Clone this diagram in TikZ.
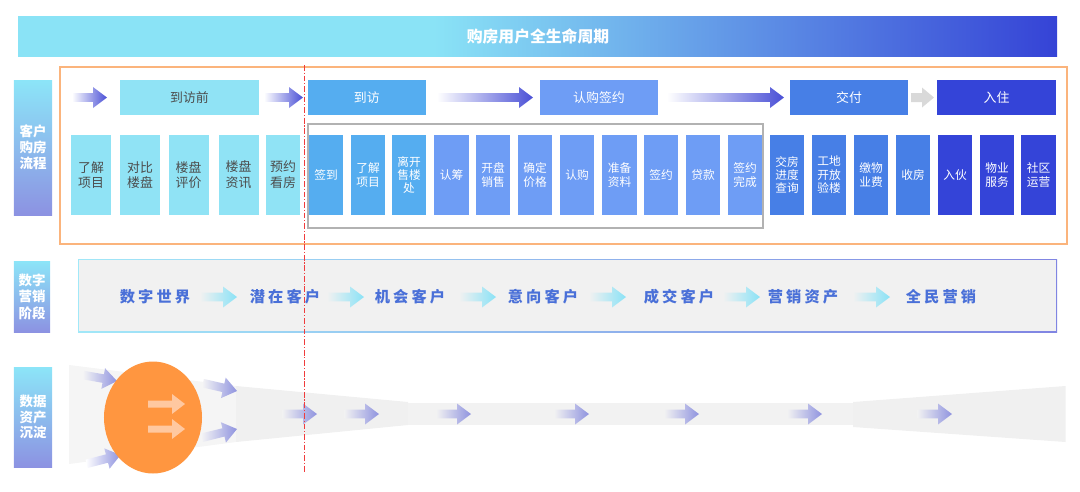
\documentclass[tikz,border=0pt]{standalone}
\usepackage{fontspec}
\setmainfont{Noto Sans CJK SC}
\newfontfamily\mktfont[LetterSpace=20]{Noto Sans CJK SC}
\usetikzlibrary{shapes.geometric}

\definecolor{preC}{HTML}{90E3F5}
\definecolor{visitC}{HTML}{55ADF0}
\definecolor{signC}{HTML}{6E9DF5}
\definecolor{deliverC}{HTML}{477FE6}
\definecolor{liveC}{HTML}{3444D8}
\definecolor{stageArrow}{HTML}{4A50D6}
\definecolor{frameC}{HTML}{FBB47C}
\definecolor{mktText}{HTML}{4A70D8}
\definecolor{mktArrow}{HTML}{8AE2F6}
\definecolor{mktBg}{HTML}{F1F1F1}
\definecolor{dataArrow}{HTML}{8F93DF}
\definecolor{hubC}{HTML}{FF9640}
\definecolor{hubArrow}{HTML}{FFC8A0}
\definecolor{labelTop}{HTML}{8CE5F8}
\definecolor{labelBot}{HTML}{8C92E2}
\definecolor{bannerL}{HTML}{8AE3F6}
\definecolor{bannerR}{HTML}{3543D6}
\definecolor{borderRed}{HTML}{F03C3C}

\pgfdeclarehorizontalshading{bannershade}{100bp}{color(0bp)=(bannerL); color(25bp)=(bannerL); color(45bp)=(bannerL); color(75bp)=(bannerR); color(100bp)=(bannerR)}

% fat arrow: tip x, tip y, length, angle, from colour, to colour
\newcommand{\gradarrow}[6]{%
  \begin{scope}[shift={(#1,#2)}, rotate=#4]
    \shade[left color=#5, right color=#6] (-#3,-4.3) -- (-14,-4.3) -- (-14,-10.5) -- (0,0) -- (-14,10.5) -- (-14,4.3) -- (-#3,4.3) -- cycle;
  \end{scope}}

\begin{document}
\begin{tikzpicture}[x=0.03cm, y=-0.03cm,
    stagebox/.style={rectangle, inner sep=0pt, minimum width=3.555cm, minimum height=1.05cm, font=\fontsize{11}{13}\selectfont, text=white},
    stepbox/.style={rectangle, inner sep=0pt, minimum width=1.03cm, minimum height=2.4cm, align=center, font=\fontsize{10}{11.5}\selectfont, text=white},
    prebox/.style={stepbox, minimum width=1.2cm, fill=preC, text=black!70, font=\fontsize{11}{13.5}\selectfont},
    sidelabel/.style={rectangle, inner sep=0pt, minimum width=1.14cm, align=center, text=white, top color=labelTop, bottom color=labelBot, font=\bfseries\fontsize{11.5}{13.5}\selectfont},
    mkttext/.style={font=\mktfont\bfseries\fontsize{13}{15}\selectfont, text=mktText}]

    \useasboundingbox (0,0) rectangle (1080,491);

    % Title banner
    \shade[shading=bannershade] (18,16) rectangle (1057,56);
    \node[font=\bfseries\fontsize{13.5}{16}\selectfont, text=white] (title) at (538,36) {购房用户全生命周期};

    % Row labels
    \node[sidelabel, minimum height=4.05cm] (lab1) at (33,147.5) {客户\\购房\\流程};
    \node[sidelabel, minimum width=1.08cm, minimum height=2.13cm, font=\bfseries\fontsize{11.5}{14}\selectfont] (lab2) at (32,296.5) {数字\\营销\\阶段};
    \node[sidelabel, minimum height=3cm] (lab3) at (33,417) {数据\\资产\\沉淀};

    % Purchase flow frames
    \draw[frameC, line width=0.9pt] (60,67) rectangle (1067,244);
    \draw[black!30, line width=0.9pt] (308,124) rectangle (763,228);

    % Stages
    \node[stagebox, minimum width=4.17cm, fill=preC, text=black!70] (sPre) at (189.5,97.5) {到访前};
    \node[stagebox, fill=visitC] (sVisit) at (366.75,97.5) {到访};
    \node[stagebox, fill=signC] (sSign) at (599,97.5) {认购签约};
    \node[stagebox, fill=deliverC] (sDeliver) at (849,97.5) {交付};
    \node[stagebox, fill=liveC] (sLive) at (996.5,97.5) {入住};

    \gradarrow{107}{97.5}{35}{0}{white}{stageArrow}
    \gradarrow{303}{97.5}{39}{0}{white}{stageArrow}
    \gradarrow{533}{97.5}{96}{0}{white}{stageArrow}
    \gradarrow{784}{97.5}{117}{0}{white}{stageArrow}
    \fill[black!15] (911,93) -- (922,93) -- (922,87.5) -- (934,97.5) -- (922,107.5) -- (922,102) -- (911,102) -- cycle;

    % Steps
    \foreach \x/\t [count=\i] in {91/{了解\\项目}, 140/{对比\\楼盘}, 188.5/{楼盘\\评价}, 238.5/{楼盘\\资讯}}
        \node[prebox] (pre\i) at (\x,175) {\t};
    \node[prebox, minimum width=1.02cm] (pre5) at (283,175) {预约\\看房};
    \foreach \x/\t [count=\i] in {326/{签到}, 368/{了解\\项目}, 409/{离开\\售楼\\处}}
        \node[stepbox, fill=visitC] (visit\i) at (\x,175) {\t};
    \foreach \x/\t [count=\i] in {451.5/{认筹}, 493/{开盘\\销售}, 535/{确定\\价格}, 577/{认购}, 619.5/{准备\\资料}, 661/{签约}, 703/{贷款}, 745/{签约\\完成}}
        \node[stepbox, fill=signC] (sign\i) at (\x,175) {\t};
    \foreach \x/\t [count=\i] in {787/{交房\\进度\\查询}, 829/{工地\\开放\\验楼}, 871/{缴物\\业费}, 913/{收房}}
        \node[stepbox, fill=deliverC] (deliver\i) at (\x,175) {\t};
    \foreach \x/\t [count=\i] in {955/{入伙}, 997/{物业\\服务}, 1038.5/{社区\\运营}}
        \node[stepbox, fill=liveC] (live\i) at (\x,175) {\t};

    % Digital marketing
    \shade[left color=mktArrow!80!white, right color=stageArrow!70!white] (78,259) rectangle (1057,332);
    \fill[mktBg] (79.2,260.2) rectangle (1055.8,330.8);
    \foreach \x/\t [count=\i] in {155/数字世界, 285/潜在客户, 410/机会客户, 543/意向客户, 679/成交客户, 803/营销资产, 941/全民营销}
        \node[mkttext] (mkt\i) at (\x,297) {\t};
    \foreach \x in {237, 364, 496, 626, 760, 890}
        {\gradarrow{\x}{297}{37}{0}{mktBg}{mktArrow}}

    % Data assets
    \fill[black!4] (69,365) -- (236,386) -- (236,442) -- (69,464) -- cycle;
    \fill[black!6] (236,386) -- (408,402) -- (408,425) -- (236,442) -- cycle;
    \fill[black!5] (408,403) rectangle (853,425);
    \fill[black!6] (853,402) -- (1065.5,386) -- (1065.5,442) -- (853,427) -- cycle;

    \gradarrow{117}{381}{34}{-10}{black!4}{dataArrow}
    \gradarrow{120.5}{455}{35}{14.6}{white}{dataArrow}
    \node[ellipse, fill=hubC, inner sep=0pt, minimum width=2.94cm, minimum height=3.36cm] (hub) at (153,417.5) {};
    \fill[hubArrow] (148,400.5) -- (172,400.5) -- (172,394) -- (185,404) -- (172,414) -- (172,407.5) -- (148,407.5) -- cycle;
    \fill[hubArrow] (148,425.5) -- (172,425.5) -- (172,419) -- (185,429) -- (172,439) -- (172,432.5) -- (148,432.5) -- cycle;
    \gradarrow{237}{391}{35}{-13}{black!4}{dataArrow}
    \gradarrow{237}{429}{36}{14}{black!4}{dataArrow}
    \foreach \x in {317, 379, 471, 589, 699, 822, 952}
        {\gradarrow{\x}{414}{35}{0}{black!5}{dataArrow}}

    % Visit boundary
    \draw[borderRed, line width=0.8pt, dash pattern=on 5pt off 1.5pt on 1pt off 1.5pt] (304,65) -- (304,473);

\end{tikzpicture}
\end{document}
